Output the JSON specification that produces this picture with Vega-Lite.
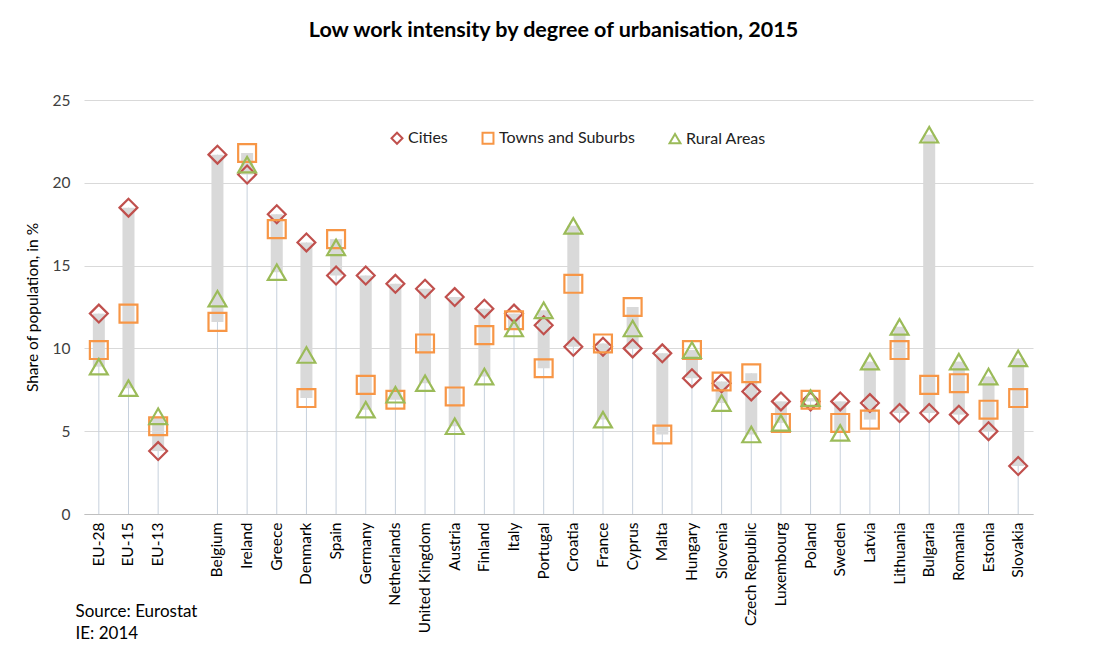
{
  "$schema": "https://vega.github.io/schema/vega-lite/v6.json",
  "autosize": {"type": "none"},
  "width": 949,
  "height": 414,
  "padding": {"left": 84, "top": 100, "right": 79, "bottom": 140},
  "background": "white",
  "config": {"view": {"stroke": null}, "font": "Lato"},
  "title": {
    "text": "Low work intensity by degree of urbanisation, 2015",
    "font": "Lato",
    "fontSize": 21.5,
    "fontWeight": "bold",
    "color": "#000000",
    "anchor": "middle",
    "offset": 52,
    "dx": -5
  },
  "data": {
    "values": [
      {"country": "EU-28", "type": "Cities", "value": 12.1},
      {"country": "EU-28", "type": "Towns and Suburbs", "value": 9.9},
      {"country": "EU-28", "type": "Rural Areas", "value": 8.9},
      {"country": "EU-15", "type": "Cities", "value": 18.5},
      {"country": "EU-15", "type": "Towns and Suburbs", "value": 12.1},
      {"country": "EU-15", "type": "Rural Areas", "value": 7.6},
      {"country": "EU-13", "type": "Cities", "value": 3.8},
      {"country": "EU-13", "type": "Towns and Suburbs", "value": 5.3},
      {"country": "EU-13", "type": "Rural Areas", "value": 5.9},
      {"country": "Belgium", "type": "Cities", "value": 21.7},
      {"country": "Belgium", "type": "Towns and Suburbs", "value": 11.6},
      {"country": "Belgium", "type": "Rural Areas", "value": 13.0},
      {"country": "Ireland", "type": "Cities", "value": 20.5},
      {"country": "Ireland", "type": "Towns and Suburbs", "value": 21.8},
      {"country": "Ireland", "type": "Rural Areas", "value": 21.1},
      {"country": "Greece", "type": "Cities", "value": 18.1},
      {"country": "Greece", "type": "Towns and Suburbs", "value": 17.2},
      {"country": "Greece", "type": "Rural Areas", "value": 14.6},
      {"country": "Denmark", "type": "Cities", "value": 16.4},
      {"country": "Denmark", "type": "Towns and Suburbs", "value": 7.0},
      {"country": "Denmark", "type": "Rural Areas", "value": 9.6},
      {"country": "Spain", "type": "Cities", "value": 14.4},
      {"country": "Spain", "type": "Towns and Suburbs", "value": 16.6},
      {"country": "Spain", "type": "Rural Areas", "value": 16.1},
      {"country": "Germany", "type": "Cities", "value": 14.4},
      {"country": "Germany", "type": "Towns and Suburbs", "value": 7.8},
      {"country": "Germany", "type": "Rural Areas", "value": 6.3},
      {"country": "Netherlands", "type": "Cities", "value": 13.9},
      {"country": "Netherlands", "type": "Towns and Suburbs", "value": 6.9},
      {"country": "Netherlands", "type": "Rural Areas", "value": 7.2},
      {"country": "United Kingdom", "type": "Cities", "value": 13.6},
      {"country": "United Kingdom", "type": "Towns and Suburbs", "value": 10.3},
      {"country": "United Kingdom", "type": "Rural Areas", "value": 7.9},
      {"country": "Austria", "type": "Cities", "value": 13.1},
      {"country": "Austria", "type": "Towns and Suburbs", "value": 7.1},
      {"country": "Austria", "type": "Rural Areas", "value": 5.3},
      {"country": "Finland", "type": "Cities", "value": 12.4},
      {"country": "Finland", "type": "Towns and Suburbs", "value": 10.8},
      {"country": "Finland", "type": "Rural Areas", "value": 8.3},
      {"country": "Italy", "type": "Cities", "value": 12.1},
      {"country": "Italy", "type": "Towns and Suburbs", "value": 11.7},
      {"country": "Italy", "type": "Rural Areas", "value": 11.2},
      {"country": "Portugal", "type": "Cities", "value": 11.4},
      {"country": "Portugal", "type": "Towns and Suburbs", "value": 8.8},
      {"country": "Portugal", "type": "Rural Areas", "value": 12.3},
      {"country": "Croatia", "type": "Cities", "value": 10.1},
      {"country": "Croatia", "type": "Towns and Suburbs", "value": 13.9},
      {"country": "Croatia", "type": "Rural Areas", "value": 17.4},
      {"country": "France", "type": "Cities", "value": 10.1},
      {"country": "France", "type": "Towns and Suburbs", "value": 10.3},
      {"country": "France", "type": "Rural Areas", "value": 5.7},
      {"country": "Cyprus", "type": "Cities", "value": 10.0},
      {"country": "Cyprus", "type": "Towns and Suburbs", "value": 12.5},
      {"country": "Cyprus", "type": "Rural Areas", "value": 11.2},
      {"country": "Malta", "type": "Cities", "value": 9.7},
      {"country": "Malta", "type": "Towns and Suburbs", "value": 4.8},
      {"country": "Hungary", "type": "Cities", "value": 8.2},
      {"country": "Hungary", "type": "Towns and Suburbs", "value": 9.9},
      {"country": "Hungary", "type": "Rural Areas", "value": 9.9},
      {"country": "Slovenia", "type": "Cities", "value": 7.9},
      {"country": "Slovenia", "type": "Towns and Suburbs", "value": 8.0},
      {"country": "Slovenia", "type": "Rural Areas", "value": 6.7},
      {"country": "Czech Republic", "type": "Cities", "value": 7.4},
      {"country": "Czech Republic", "type": "Towns and Suburbs", "value": 8.5},
      {"country": "Czech Republic", "type": "Rural Areas", "value": 4.8},
      {"country": "Luxembourg", "type": "Cities", "value": 6.8},
      {"country": "Luxembourg", "type": "Towns and Suburbs", "value": 5.5},
      {"country": "Luxembourg", "type": "Rural Areas", "value": 5.5},
      {"country": "Poland", "type": "Cities", "value": 6.8},
      {"country": "Poland", "type": "Towns and Suburbs", "value": 6.9},
      {"country": "Poland", "type": "Rural Areas", "value": 7.0},
      {"country": "Sweden", "type": "Cities", "value": 6.8},
      {"country": "Sweden", "type": "Towns and Suburbs", "value": 5.5},
      {"country": "Sweden", "type": "Rural Areas", "value": 4.9},
      {"country": "Latvia", "type": "Cities", "value": 6.7},
      {"country": "Latvia", "type": "Towns and Suburbs", "value": 5.7},
      {"country": "Latvia", "type": "Rural Areas", "value": 9.2},
      {"country": "Lithuania", "type": "Cities", "value": 6.1},
      {"country": "Lithuania", "type": "Towns and Suburbs", "value": 9.9},
      {"country": "Lithuania", "type": "Rural Areas", "value": 11.3},
      {"country": "Bulgaria", "type": "Cities", "value": 6.1},
      {"country": "Bulgaria", "type": "Towns and Suburbs", "value": 7.8},
      {"country": "Bulgaria", "type": "Rural Areas", "value": 22.9},
      {"country": "Romania", "type": "Cities", "value": 6.0},
      {"country": "Romania", "type": "Towns and Suburbs", "value": 7.9},
      {"country": "Romania", "type": "Rural Areas", "value": 9.2},
      {"country": "Estonia", "type": "Cities", "value": 5.0},
      {"country": "Estonia", "type": "Towns and Suburbs", "value": 6.3},
      {"country": "Estonia", "type": "Rural Areas", "value": 8.3},
      {"country": "Slovakia", "type": "Cities", "value": 2.9},
      {"country": "Slovakia", "type": "Towns and Suburbs", "value": 7.0},
      {"country": "Slovakia", "type": "Rural Areas", "value": 9.4}
    ]
  },
  "encoding": {
    "x": {
      "field": "country",
      "type": "nominal",
      "sort": null,
      "scale": {
        "domain": ["EU-28", "EU-15", "EU-13", " ", "Belgium", "Ireland", "Greece", "Denmark", "Spain", "Germany", "Netherlands", "United Kingdom", "Austria", "Finland", "Italy", "Portugal", "Croatia", "France", "Cyprus", "Malta", "Hungary", "Slovenia", "Czech Republic", "Luxembourg", "Poland", "Sweden", "Latvia", "Lithuania", "Bulgaria", "Romania", "Estonia", "Slovakia"],
        "paddingInner": 0,
        "paddingOuter": 0
      },
      "axis": {
        "title": ["Source: Eurostat", "IE: 2014"],
        "titleFont": "Lato",
        "titleFontSize": 17,
        "titleFontWeight": "normal",
        "titleColor": "#000000",
        "titleAlign": "left",
        "titleAnchor": null,
        "titleBaseline": "top",
        "titleX": -9,
        "titleY": 89,
        "titleLineHeight": 22,
        "labelAngle": 270,
        "labelFontSize": 15.5,
        "labelColor": "#000000",
        "labelPadding": 8,
        "ticks": false,
        "domainColor": "#bfbfbf",
        "domainWidth": 1,
        "grid": false
      }
    }
  },
  "layer": [
    {
      "mark": {"type": "rule", "color": "#c6d0dc", "strokeWidth": 1},
      "encoding": {
        "y": {"aggregate": "max", "field": "value", "type": "quantitative"},
        "y2": {"datum": 0}
      }
    },
    {
      "mark": {"type": "bar", "color": "#d9d9d9", "size": 12},
      "encoding": {
        "y": {"aggregate": "min", "field": "value", "type": "quantitative"},
        "y2": {"aggregate": "max", "field": "value"}
      }
    },
    {
      "mark": {"type": "point", "filled": false, "strokeWidth": 2.2, "size": 320, "opacity": 1},
      "encoding": {
        "y": {
          "field": "value",
          "type": "quantitative",
          "scale": {"domain": [0, 25], "nice": false},
          "axis": {
            "title": "Share of population, in %",
            "titleFont": "Lato",
            "titleFontSize": 15.5,
            "titleFontWeight": "normal",
            "titleColor": "#000000",
            "titlePadding": 12,
            "values": [0, 5, 10, 15, 20, 25],
            "labelFontSize": 15.5,
            "labelColor": "#404040",
            "labelPadding": 14,
            "domain": false,
            "ticks": false,
            "gridColor": "#d9d9d9",
            "gridWidth": 1.2
          }
        },
        "color": {
          "field": "type",
          "type": "nominal",
          "scale": {"domain": ["Cities", "Towns and Suburbs", "Rural Areas"], "range": ["#c0504d", "#f79646", "#9bbb59"]},
          "legend": {
            "orient": "none",
            "legendX": 305,
            "legendY": 30,
            "direction": "horizontal",
            "title": null,
            "labelFont": "Lato",
            "labelFontSize": 16,
            "labelColor": "#222222",
            "symbolSize": 120,
            "symbolStrokeWidth": 2,
            "columnPadding": 30,
            "labelOffset": 3
          }
        },
        "shape": {
          "field": "type",
          "type": "nominal",
          "scale": {"domain": ["Cities", "Towns and Suburbs", "Rural Areas"], "range": ["diamond", "square", "triangle-up"]},
          "legend": {
            "orient": "none",
            "legendX": 305,
            "legendY": 30,
            "direction": "horizontal",
            "title": null
          }
        }
      }
    }
  ]
}
